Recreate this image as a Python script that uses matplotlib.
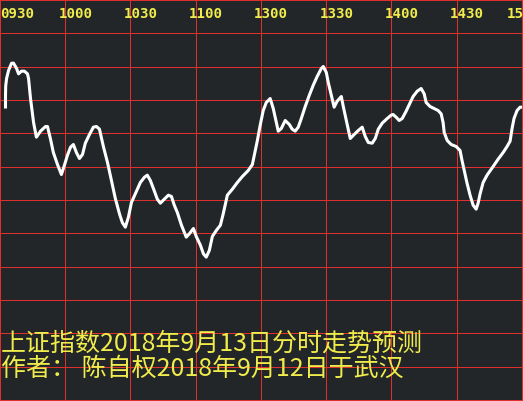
import matplotlib
matplotlib.use("Agg")
import matplotlib.pyplot as plt
import matplotlib.transforms as mtransforms

# ---- data (minutes after 09:30 in trading time, index level) ----
minutes = [2.3, 2.3, 2.4, 2.8, 3.7, 5.1, 6.0, 7.4, 8.3, 9.6, 11.0, 12.4, 12.9, 13.8,
           15.2, 16.5, 18.4, 20.7, 21.6, 23.0, 24.3, 26.2, 28.0, 29.4, 30.8, 32.2,
           33.5, 34.9, 36.3, 37.7, 39.0, 40.9, 42.7, 44.1, 45.5, 47.3, 49.2, 51.0,
           52.8, 54.7, 56.0, 57.4, 58.8, 60.2, 62.0, 64.3, 66.2, 67.5, 68.9, 70.3,
           72.1, 73.5, 75.3, 77.2, 78.6, 79.9, 81.3, 83.2, 85.4, 86.8, 88.7, 90.0,
           91.9, 93.3, 94.6, 96.0, 97.4, 99.2, 101.1, 102.4, 104.3, 106.6, 108.9,
           111.2, 113.9, 115.8, 116.7, 118.1, 119.4, 120.8, 122.2, 124.0, 125.4,
           126.8, 127.7, 129.1, 130.9, 132.8, 134.1, 135.5, 136.9, 138.3, 140.1,
           142.0, 143.8, 145.6, 147.5, 148.4, 149.8, 150.7, 152.1, 153.4, 154.8,
           156.7, 157.6, 159.0, 160.8, 162.6, 164.5, 166.3, 167.7, 169.1, 170.9,
           172.3, 173.7, 175.5, 177.8, 179.6, 180.5, 181.9, 183.3, 184.7, 186.5,
           188.4, 189.7, 191.6, 193.4, 194.8, 195.7, 197.5, 199.4, 201.2, 202.6,
           203.5, 204.0, 205.4, 207.2, 209.5, 211.3, 212.2, 213.2, 214.5, 215.9,
           217.3, 218.7, 219.6, 220.5, 221.9, 223.7, 226.5, 228.8, 231.1, 232.9,
           234.3, 235.2, 236.1, 237.5, 238.9, 239.8]
index_level = [2683.8, 2685.8, 2687.2, 2688.3, 2689.5, 2690.6, 2690.6, 2689.8, 2689.0,
               2689.4, 2689.4, 2689.0, 2688.3, 2685.3, 2681.7, 2679.5, 2680.4, 2681.1,
               2681.1, 2679.2, 2677.2, 2675.4, 2673.9, 2675.3, 2676.8, 2678.0, 2678.4,
               2677.2, 2676.3, 2676.9, 2678.6, 2679.9, 2681.0, 2681.1, 2680.7, 2678.1,
               2675.7, 2673.0, 2670.3, 2668.0, 2666.7, 2666.0, 2667.5, 2669.7, 2671.0,
               2672.7, 2673.5, 2673.8, 2673.0, 2671.8, 2670.2, 2669.6, 2670.2, 2670.8,
               2670.6, 2669.3, 2668.2, 2666.3, 2664.5, 2665.0, 2665.8, 2664.6, 2663.3,
               2662.0, 2661.5, 2662.5, 2664.6, 2665.5, 2666.3, 2668.0, 2670.8, 2671.7,
               2672.7, 2673.6, 2674.5, 2675.4, 2676.8, 2679.0, 2681.3, 2683.5, 2684.7,
               2685.3, 2683.8, 2681.7, 2680.4, 2680.8, 2682.0, 2681.4, 2680.7, 2680.4,
               2681.0, 2682.3, 2684.1, 2685.8, 2687.3, 2688.6, 2689.8, 2690.1, 2689.2,
               2687.7, 2685.8, 2684.0, 2684.9, 2685.6, 2684.1, 2682.0, 2679.3, 2679.9,
               2680.5, 2681.0, 2679.6, 2678.7, 2678.6, 2679.3, 2680.7, 2681.6, 2682.3,
               2682.8, 2682.9, 2682.5, 2682.0, 2682.3, 2683.4, 2684.7, 2685.6, 2686.4,
               2686.8, 2686.0, 2684.7, 2684.1, 2683.8, 2683.5, 2683.0, 2681.7, 2680.2,
               2679.0, 2678.4, 2678.1, 2677.5, 2676.0, 2674.5, 2672.6, 2670.8, 2669.3,
               2668.7, 2669.6, 2671.0, 2672.7, 2673.8, 2675.1, 2676.2, 2677.2, 2678.1,
               2678.9, 2680.8, 2682.3, 2683.5, 2684.0, 2684.0]

tick_minutes = [0, 30, 60, 90, 120, 150, 180, 210, 240]
tick_labels = ["0930", "1000", "1030", "1100", "1300", "1330", "1400", "1430", "1500"]
level_lines = [2640 + 5 * i for i in range(13)]

title_line1 = "上证指数2018年9月13日分时走势预测"
title_line2 = "作者： 陈自权2018年9月12日于武汉"

# ---- style ----
BG = "#222629"
GRID = "#e0302e"
YELLOW = "#f0ec4c"
DPI = 100
W, H = 523, 401

fig = plt.figure(figsize=(W / DPI, H / DPI), dpi=DPI, facecolor=BG)
ax = fig.add_axes([0, 0, 1, 1], facecolor=BG)
px_per_min = 522 / 240
px_per_pt = 400 / 60
x0 = -0.5 / px_per_min
y0 = 2640 - 0.5 / px_per_pt
ax.set_xlim(x0, 240 + 0.5 / px_per_min)
ax.set_ylim(y0, 2700 + 0.5 / px_per_pt)
for s in ax.spines.values():
    s.set_visible(False)
ax.set_xticks([])
ax.set_yticks([])

# grid lines placed on whole-pixel centres so they render crisp
for v in level_lines:
    p = round((v - 2640) * px_per_pt)
    ax.axhline(2640 + p / px_per_pt, color=GRID, lw=0.72, snap=False, zorder=1)
for t in tick_minutes:
    p = round(t * px_per_min)
    ax.axvline(p / px_per_min, color=GRID, lw=0.72, snap=False, zorder=1)

ax.plot(minutes, index_level, color="white", lw=2.2, solid_joinstyle="round",
        solid_capstyle="butt", zorder=3)

# top time labels
label_font = dict(family="DejaVu Sans Mono", fontsize=10.2, fontweight="bold", color=YELLOW)
right_offsets = [None, 26.5, 26.5, 26.5, 26.5, 26.5, 26.5, 26.5, 18.5]
for t, lab, off in zip(tick_minutes, tick_labels, right_offsets):
    if off is None:
        tr = mtransforms.offset_copy(ax.get_xaxis_transform(), fig=fig, x=0, y=0, units="dots")
        ax.text(t, 1 - 17.5 / H, lab, transform=tr, ha="left", va="baseline", **label_font)
    else:
        tr = mtransforms.offset_copy(ax.get_xaxis_transform(), fig=fig, x=off, y=0, units="dots")
        ax.text(t, 1 - 17.5 / H, lab, transform=tr, ha="right", va="baseline", **label_font)

# bottom captions
cap_font = dict(family=["Noto Sans CJK SC", "DejaVu Sans"], fontsize=18, color=YELLOW)
fig.text(1 / W, 1 - 350.5 / H, title_line1, ha="left", va="baseline", **cap_font)
fig.text(1 / W, 1 - 375.5 / H, title_line2, ha="left", va="baseline", **cap_font)

fig.savefig("out.png", dpi=DPI, facecolor=BG)
